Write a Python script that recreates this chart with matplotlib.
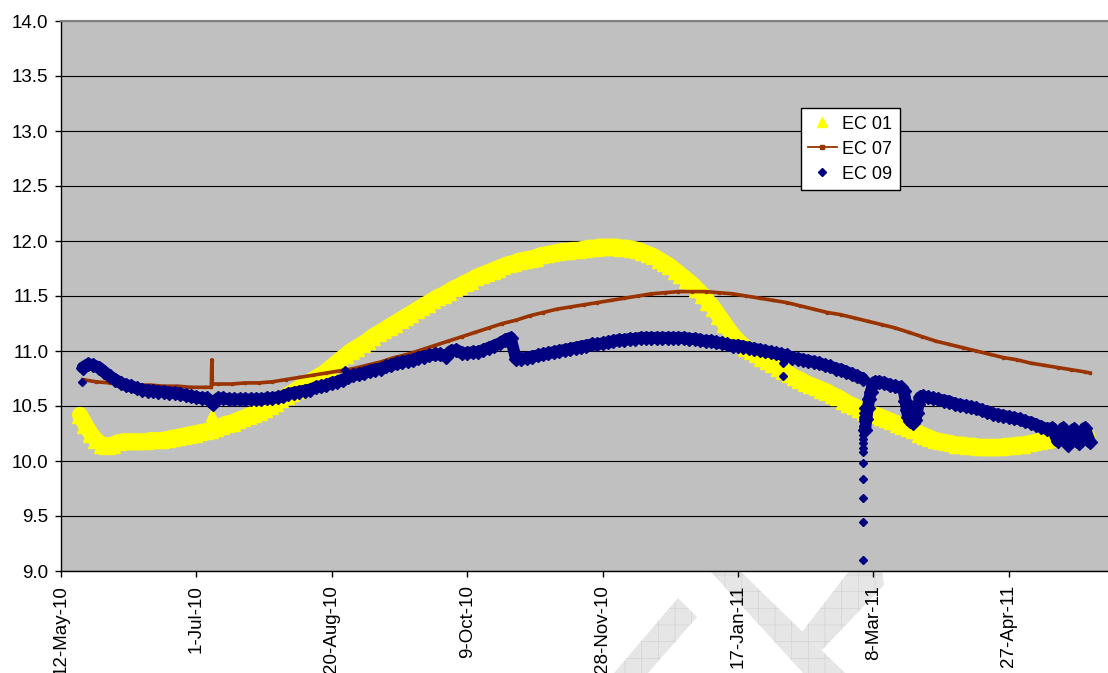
import numpy as np
import matplotlib.pyplot as plt
import matplotlib.dates as mdates
from matplotlib.lines import Line2D
from matplotlib.patches import Polygon
from matplotlib.ticker import FuncFormatter, MultipleLocator
from datetime import datetime

plt.rcParams['font.family'] = ['Liberation Sans', 'DejaVu Sans']
plt.rcParams['hatch.linewidth'] = 0.5

start = datetime(2010, 5, 12)
t0 = mdates.date2num(start)

# EC 01 - one reading every 2 days from day 7 (days after 12-May-10)
ec01_days = np.arange(7, 380, 2)
ec01_vals = [10.42, 10.33, 10.25, 10.19, 10.15, 10.14, 10.15, 10.17, 10.18, 10.18,
             10.18, 10.18, 10.18, 10.19, 10.19, 10.19, 10.20, 10.21, 10.22, 10.23,
             10.24, 10.25, 10.26, 10.27, 10.28, 10.30, 10.32, 10.34, 10.35, 10.37,
             10.39, 10.41, 10.43, 10.45, 10.47, 10.50, 10.53, 10.56, 10.59, 10.62,
             10.65, 10.68, 10.71, 10.74, 10.77, 10.80, 10.84, 10.88, 10.92, 10.96,
             11.00, 11.03, 11.06, 11.09, 11.13, 11.16, 11.19, 11.22, 11.25, 11.28,
             11.31, 11.34, 11.37, 11.40, 11.43, 11.46, 11.49, 11.51, 11.54, 11.57,
             11.59, 11.62, 11.64, 11.67, 11.69, 11.71, 11.73, 11.75, 11.77, 11.79,
             11.80, 11.82, 11.83, 11.84, 11.85, 11.87, 11.88, 11.89, 11.90, 11.91,
             11.91, 11.92, 11.92, 11.93, 11.94, 11.94, 11.95, 11.95, 11.95, 11.95,
             11.94, 11.94, 11.93, 11.92, 11.90, 11.88, 11.86, 11.83, 11.80, 11.77,
             11.73, 11.69, 11.65, 11.61, 11.56, 11.51, 11.45, 11.39, 11.32, 11.25,
             11.18, 11.12, 11.07, 11.03, 11.00, 10.97, 10.94, 10.91, 10.88, 10.85,
             10.82, 10.79, 10.76, 10.74, 10.71, 10.69, 10.67, 10.65, 10.63, 10.60,
             10.58, 10.55, 10.52, 10.50, 10.47, 10.45, 10.43, 10.42, 10.40, 10.38,
             10.36, 10.34, 10.32, 10.30, 10.28, 10.25, 10.23, 10.21, 10.19, 10.18,
             10.17, 10.16, 10.15, 10.15, 10.14, 10.14, 10.13, 10.13, 10.13, 10.13,
             10.13, 10.14, 10.14, 10.15, 10.15, 10.16, 10.17, 10.18, 10.19, 10.20,
             10.21, 10.21, 10.22, 10.22, 10.22, 10.22, 10.22]
ec01_spike_days = [55.6, 55.7, 55.8]
ec01_spike_vals = [10.33, 10.38, 10.42]

# EC 07
ec07_days = [8, 13, 18, 23, 28, 33, 38, 43, 48, 53, 55.5, 55.7, 55.9,
             58, 63, 68, 73, 78, 83, 88, 93, 98, 103, 108, 113, 118, 123, 128, 133,
             138, 143, 148, 153, 158, 163, 168, 173, 178, 183, 188, 193, 198, 203,
             208, 213, 218, 223, 228, 233, 238, 243, 248, 253, 258, 263, 268, 273,
             278, 283, 288, 293, 298, 303, 308, 313, 318, 323, 328, 333, 338, 343,
             348, 353, 358, 363, 368, 373, 378, 380]
ec07_vals = [10.74, 10.72, 10.71, 10.70, 10.69, 10.69, 10.68, 10.68, 10.67, 10.67,
             10.67, 10.92, 10.70,
             10.70, 10.70, 10.71, 10.71, 10.72, 10.74, 10.76, 10.78, 10.80, 10.82,
             10.84, 10.87, 10.90, 10.94, 10.97, 11.01, 11.05, 11.09, 11.13, 11.17,
             11.21, 11.25, 11.28, 11.32, 11.35, 11.38, 11.40, 11.42, 11.44, 11.46,
             11.48, 11.50, 11.52, 11.53, 11.54, 11.54, 11.54, 11.53, 11.52, 11.50,
             11.48, 11.46, 11.44, 11.41, 11.38, 11.35, 11.33, 11.30, 11.27, 11.24,
             11.21, 11.17, 11.13, 11.09, 11.06, 11.03, 11.00, 10.97, 10.94, 10.92,
             10.89, 10.87, 10.85, 10.83, 10.81, 10.80]

# EC 09 - every 2 days up to the March drop
ec09_days = np.arange(8, 297, 2)
ec09_vals = [10.85, 10.88, 10.87, 10.85, 10.81, 10.77, 10.74, 10.71, 10.69, 10.68,
             10.66, 10.65, 10.64, 10.64, 10.63, 10.63, 10.62, 10.62, 10.61, 10.60,
             10.59, 10.58, 10.57, 10.57, 10.52, 10.57, 10.57, 10.56, 10.56, 10.56,
             10.56, 10.56, 10.56, 10.56, 10.57, 10.57, 10.58, 10.59, 10.61, 10.62,
             10.63, 10.64, 10.65, 10.67, 10.68, 10.69, 10.71, 10.72, 10.74, 10.76,
             10.78, 10.79, 10.80, 10.82, 10.83, 10.84, 10.86, 10.87, 10.89, 10.90,
             10.91, 10.92, 10.94, 10.95, 10.96, 10.97, 10.97, 10.95, 11.00, 11.01,
             10.98, 10.98, 10.99, 10.99, 11.01, 11.03, 11.05, 11.07, 11.10, 11.12,
             10.93, 10.93, 10.94, 10.95, 10.96, 10.97, 10.98, 10.99, 11.00, 11.01,
             11.02, 11.03, 11.04, 11.05, 11.06, 11.06, 11.07, 11.08, 11.09, 11.10,
             11.10, 11.11, 11.11, 11.12, 11.12, 11.12, 11.12, 11.12, 11.12, 11.12,
             11.12, 11.12, 11.11, 11.11, 11.10, 11.09, 11.09, 11.08, 11.07, 11.06,
             11.05, 11.05, 11.04, 11.03, 11.02, 11.01, 11.00, 10.99, 10.98, 10.97,
             10.96, 10.94, 10.93, 10.92, 10.91, 10.90, 10.89, 10.87, 10.86, 10.84,
             10.83, 10.81, 10.79, 10.77, 10.75]
# EC 09 - recovery after the drop and the second dip
ec09_rec_days = [296.9, 297.4, 297.9, 298.4, 299.0, 299.7, 300.6, 302.0, 304.0,
                 306.0, 308.0, 310.0, 311.2, 311.8, 312.3, 312.8, 313.6, 314.6, 315.5,
                 316.1, 316.6, 317.2, 318.2]
ec09_rec_vals = [10.28, 10.38, 10.48, 10.56, 10.63, 10.69, 10.72, 10.72, 10.71,
                 10.69, 10.68, 10.67, 10.64, 10.55, 10.46, 10.40, 10.36, 10.35, 10.37,
                 10.44, 10.52, 10.58, 10.59]
# EC 09 - every 2 days to the end
ec09_tail_days = np.arange(320, 381, 2)
ec09_tail_vals = [10.58, 10.57, 10.56, 10.55, 10.54, 10.52, 10.51, 10.50, 10.49, 10.48,
                  10.46, 10.45, 10.43, 10.42, 10.41, 10.40, 10.39, 10.38, 10.36, 10.35,
                  10.33, 10.31, 10.29, 10.30, 10.18, 10.30, 10.15, 10.29, 10.16, 10.30,
                  10.17]
# EC 09 - single readings away from the band
ec09_single_days = [7.8, 104.9, 266.6, 266.6] + [296.2] * 16
ec09_single_vals = [10.72, 10.83, 10.89, 10.77, 9.10, 9.45, 9.66, 9.84, 9.98, 10.08,
                    10.12, 10.16, 10.20, 10.24, 10.28, 10.32, 10.36, 10.40, 10.44, 10.48]

yellow = '#FFFF00'
brown = '#993300'
navy = '#000080'

W, H = 1108, 673
fig = plt.figure(figsize=(W / 100, H / 100), dpi=100)

# faint watermark behind the chart
marks = [[(614, 673), (678, 598), (697, 617), (648, 673)],
         [(710, 571), (740, 571), (845, 673), (803, 673)],
         [(849, 571), (882, 571), (884, 585), (822, 650), (802, 632)]]
for m in marks:
    fig.add_artist(Polygon([(x / W, 1 - y / H) for x, y in m], closed=True,
                           facecolor='#e6e6e6', edgecolor='#d4d4d4', hatch='+',
                           linewidth=0, zorder=-1))

ax = fig.add_axes([61 / W, 1 - 571 / H, (W - 61) / W, 550 / H])
ax.set_facecolor('#C0C0C0')

# dense logger readings: thick line under the markers to fill the band
band = dict(solid_capstyle='round', solid_joinstyle='round')
ax.plot(t0 + ec01_days, ec01_vals, '-', lw=11.5, color=yellow, zorder=3, **band)
ax.plot(t0 + ec01_days, ec01_vals, ls='none', marker='^', ms=12, color=yellow, zorder=3)
ax.plot(t0 + np.array(ec01_spike_days), ec01_spike_vals, ls='none', marker='^', ms=9,
        color=yellow, zorder=3)

ax.plot(t0 + np.array(ec07_days), ec07_vals, '-', color=brown, lw=2.6, marker='s', ms=2,
        zorder=4)

for d, v in [(ec09_days, ec09_vals), (ec09_rec_days, ec09_rec_vals),
             (ec09_tail_days, ec09_tail_vals)]:
    ax.plot(t0 + np.array(d), v, '-', lw=8.5, color=navy, zorder=5, **band)
    ax.plot(t0 + np.array(d), v, ls='none', marker='D', ms=7, color=navy, zorder=5)
ax.plot(t0 + np.array(ec09_single_days), ec09_single_vals, ls='none', marker='D', ms=4,
        color=navy, zorder=5)

ax.set_ylim(9, 14)
ax.set_xlim(t0, t0 + 386.6)
ax.yaxis.set_major_locator(MultipleLocator(0.5))
ax.yaxis.set_major_formatter(FuncFormatter(lambda v, p: f"{v:.1f}"))
ax.set_xticks([t0 + 50 * k for k in range(8)])
ax.xaxis.set_major_formatter(FuncFormatter(
    lambda v, p: mdates.num2date(v).strftime('%d-%b-%y').lstrip('0')))
ax.tick_params(axis='x', labelsize=13.5, rotation=90, length=4, width=1, pad=6)
ax.tick_params(axis='y', labelsize=13.5, length=4, width=1, pad=5)
ax.grid(True, axis='y', color='black', lw=0.8, zorder=1)
ax.set_axisbelow(True)

ax.spines['right'].set_visible(False)
ax.spines['top'].set_color('#808080')
ax.spines['top'].set_linewidth(1.5)
for s in ['left', 'bottom']:
    ax.spines[s].set_color('black')
    ax.spines[s].set_linewidth(1)

handles = [Line2D([], [], ls='none', marker='^', ms=7, color=yellow),
           Line2D([], [], color=brown, lw=1.3, marker='s', ms=2.5),
           Line2D([], [], ls='none', marker='D', ms=4.5, color=navy)]
leg = ax.legend(handles, ['EC 01', 'EC 07', 'EC 09'], loc='upper left',
                bbox_to_anchor=(0.7065, 0.8413), borderaxespad=0, fontsize=13,
                frameon=True, fancybox=False, framealpha=1, edgecolor='black',
                handlelength=1.6, handletextpad=0.3, labelspacing=0.45, borderpad=0.4)
leg.get_frame().set_linewidth(1)
leg.set_zorder(10)

fig.savefig('out.png', dpi=100)
